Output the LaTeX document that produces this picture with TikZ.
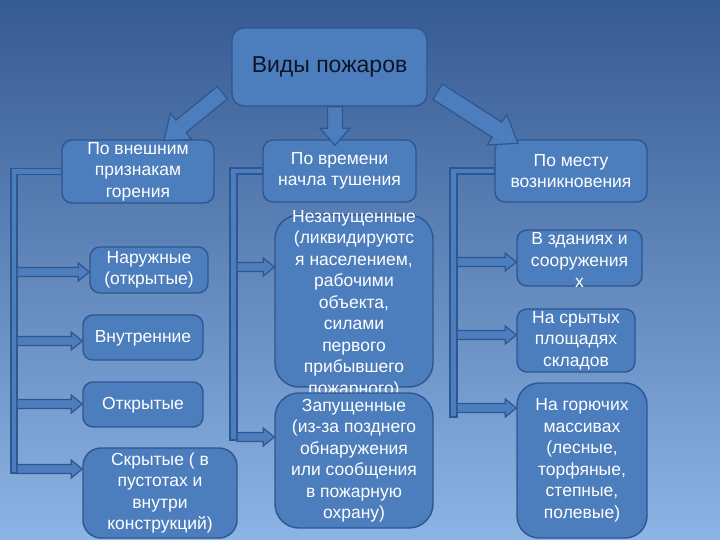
\documentclass[tikz,border=0pt]{standalone}
\usepackage{fontspec}
\setmainfont{Liberation Sans}
\usetikzlibrary{calc}
\definecolor{bgtop}{RGB}{54,90,146}
\definecolor{bgmid}{RGB}{88,138,198}
\definecolor{bgbot}{RGB}{140,180,228}
\definecolor{boxfill}{RGB}{76,125,189}
\definecolor{boxline}{RGB}{46,86,146}
\definecolor{titletext}{RGB}{12,22,40}
\tikzset{
  txt/.style={text=white, font=\fontsize{17.5}{21.5}\selectfont, align=center, inner sep=0pt},
  box/.style={draw=boxline, fill=boxfill, line width=1.4pt, rounded corners=10pt, txt},
  barfill/.style={draw=boxline, fill=boxfill, line width=1.2pt, line join=miter},
}
\newcommand\blockarrow[5]{% tail, tip, half shaft, half head, head length
  \coordinate (bahead) at ($(#2)!#5!(#1)$);
  \draw[barfill] ($(#1)!#3!90:(#2)$) -- ($(bahead)!#3!90:(#2)$) -- ($(bahead)!#4!90:(#2)$) -- (#2)
    -- ($(bahead)!#4!-90:(#2)$) -- ($(bahead)!#3!-90:(#2)$) -- ($(#1)!#3!-90:(#2)$) -- cycle;}
\begin{document}
\begin{tikzpicture}[x=1pt,y=-1pt]
\useasboundingbox (0,0) rectangle (720,540);
\shade[top color=bgtop, middle color=bgmid, bottom color=bgbot] (0,0) rectangle (720,540);

% boxes
\node[box, rounded corners=12pt, minimum width=195pt, minimum height=78pt, text=titletext, font=\fontsize{23}{27}\selectfont] (top) at (329.5,67) {Виды пожаров};
\node[box, minimum width=152pt, minimum height=63pt] (l1) at (138,171.5) {По внешним\\признакам\\горения};
\node[box, minimum width=153pt, minimum height=62pt] (m1) at (339.5,171) {По времени\\начла тушения};
\node[box, minimum width=152pt, minimum height=62pt] (r1) at (571,171) {По месту\\возникновения};

\node[box, minimum width=118pt, minimum height=46pt] (l2) at (149,270) {Наружные\\(открытые)};
\node[box, minimum width=120pt, minimum height=45pt, text depth=2pt] (l3) at (143,337.5) {Внутренние};
\node[box, minimum width=120pt, minimum height=45pt, text depth=3pt] (l4) at (143,404.5) {Открытые};
\node[box, rounded corners=18pt, minimum width=154pt, minimum height=90pt] (l5) at (160,493) {Скрытые ( в\\пустотах и\\внутри\\конструкций)};

\node[box, rounded corners=24pt, minimum width=158pt, minimum height=172pt] (m2) at (354,301) {};
\node[txt] (m2t) at (354,304) {Незапущенные\\(ликвидируютс\\я населением,\\рабочими\\объекта,\\силами\\первого\\прибывшего\\пожарного)};
\node[box, rounded corners=24pt, minimum width=158pt, minimum height=135pt] (m3) at (354,460.5) {Запущенные\\(из-за позднего\\обнаружения\\или сообщения\\в пожарную\\охрану)};

\node[box, minimum width=125pt, minimum height=56pt] (r2) at (579.5,258) {};
\node[txt] (r2t) at (579.5,260) {В зданиях и\\сооружения\\х};
\node[box, minimum width=118pt, minimum height=63pt] (r3) at (576,340.5) {На срытых\\площадях\\складов};
\node[box, rounded corners=22pt, minimum width=130pt, minimum height=155pt] (r4) at (582,460.5) {На горючих\\массивах\\(лесные,\\торфяные,\\степные,\\полевые)};

% brackets
\draw[barfill] ($(l1.west)+(0,-3)$) -| (11,473) -- (17,473) |- ($(l1.west)+(0,3)$) -- cycle;
\draw[barfill] ($(m1.west)+(0,-3)$) -| (230,440) -- (237,440) |- ($(m1.west)+(0,3)$) -- cycle;
\draw[barfill] ($(r1.west)+(0,-3)$) -| (450,417) -- (457,417) |- ($(r1.west)+(0,3)$) -- cycle;

% small arrows
\coordinate (la1) at (17,272); \coordinate (la1e) at (la1 -| l2.west);
\coordinate (la2) at (17,341); \coordinate (la2e) at (la2 -| l3.west);
\coordinate (la3) at (17,404); \coordinate (la3e) at (la3 -| l4.west);
\coordinate (la4) at (17,469); \coordinate (la4e) at (la4 -| l5.west);
\coordinate (ma1) at (237,267); \coordinate (ma1e) at (ma1 -| m2.west);
\coordinate (ma2) at (237,437); \coordinate (ma2e) at (ma2 -| m3.west);
\coordinate (ra1) at (457,262); \coordinate (ra1e) at (ra1 -| r2.west);
\coordinate (ra2) at (457,335); \coordinate (ra2e) at (ra2 -| r3.west);
\coordinate (ra3) at (457,408); \coordinate (ra3e) at (ra3 -| r4.west);
\foreach \s in {la1,la2,la3,la4,ma1,ma2,ra1,ra2,ra3}{
  \blockarrow{\s}{\s e}{4.5pt}{9pt}{11pt}
}

% main arrows
\coordinate (a1s) at ($(top.south west)+(-9,-14)$); \coordinate (a1e) at ($(l1.north)+(26,1)$);
\coordinate (a2s) at ($(top.south)+(5.5,0)$); \coordinate (a2e) at ($(m1.north)+(-4.5,6)$);
\coordinate (a3s) at ($(top.south east)+(10,-15)$); \coordinate (a3e) at ($(r1.north)+(-53,4)$);
\blockarrow{a1s}{a1e}{8pt}{17pt}{22pt}
\blockarrow{a2s}{a2e}{7.5pt}{15pt}{17pt}
\blockarrow{a3s}{a3e}{9pt}{18pt}{25pt}
\end{tikzpicture}
\end{document}
